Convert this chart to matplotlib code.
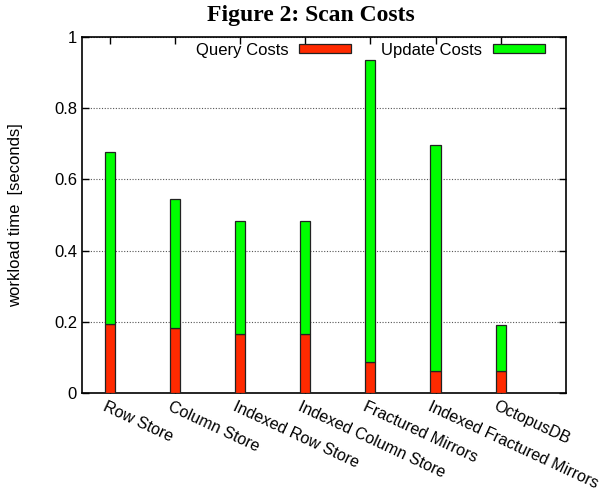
import matplotlib
matplotlib.use("Agg")
import matplotlib.pyplot as plt
from matplotlib.ticker import FormatStrFormatter
from matplotlib.transforms import ScaledTranslation

# Scan cost per storage layout (seconds)
systems = ["Row Store", "Column Store", "Indexed Row Store", "Indexed Column Store",
           "Fractured Mirrors", "Indexed Fractured Mirrors", "OctopusDB"]
query_costs = [0.194, 0.182, 0.166, 0.166, 0.087, 0.063, 0.063]
total_costs = [0.677, 0.546, 0.483, 0.483, 0.935, 0.697, 0.191]
update_costs = [t - q for t, q in zip(total_costs, query_costs)]

plt.rcParams["font.family"] = ["Liberation Sans", "DejaVu Sans"]

fig = plt.figure(figsize=(6.11, 4.92), dpi=100)
ax = fig.add_axes([0.134, 0.201, 0.792, 0.724])

x = list(range(len(systems)))
w = 0.155
ax.bar(x, query_costs, w, color="#ff2a00", edgecolor="#222222", lw=0.9,
       label="Query Costs", zorder=3)
ax.bar(x, update_costs, w, bottom=query_costs, color="#00ff00",
       edgecolor="#222222", lw=0.9, label="Update Costs", zorder=3)

ax.set_xlim(-0.43, 7.0)
ax.set_ylim(0, 1)
ax.set_yticks([0, 0.2, 0.4, 0.6, 0.8, 1])
ax.yaxis.set_major_formatter(FormatStrFormatter("%g"))
ax.set_xticks(x)
ax.set_xticklabels(systems, rotation=-25, ha="left", va="top",
                   rotation_mode="anchor", fontsize=11.6)
ax.tick_params(axis="both", direction="in", length=5, width=1,
               top=True, right=True, labelsize=12)
ax.tick_params(axis="x", pad=4, labelsize=11.6)
shift = ScaledTranslation(-3 / 100, 0, fig.dpi_scale_trans)
for lbl in ax.get_xticklabels():
    lbl.set_transform(lbl.get_transform() + shift)
ax.grid(axis="y", linestyle=(0, (1, 1.5)), color="#555555", lw=0.8, zorder=0)
for s in ax.spines.values():
    s.set_linewidth(1.2)

ax.set_ylabel("workload time  [seconds]", fontsize=12, labelpad=22)
fig.suptitle("Figure 2: Scan Costs", x=0.508, y=0.99, fontsize=17,
             fontweight="bold", family=["Liberation Serif", "DejaVu Serif"])

ax.legend(loc="upper right", bbox_to_anchor=(0.977, 1.012), ncol=2,
          frameon=False, markerfirst=False, fontsize=12,
          handlelength=3.1, handleheight=0.5, handletextpad=0.65,
          columnspacing=1.8, borderaxespad=0.2)

fig.savefig("out.png", dpi=100)
